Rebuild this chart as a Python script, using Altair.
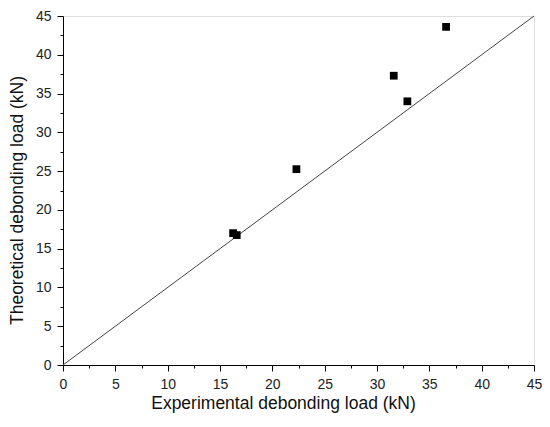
import altair as alt
import pandas as pd

exp_load = [16.25, 16.6, 22.3, 31.6, 32.9, 36.6]
theo_load = [17.0, 16.75, 25.25, 37.3, 34.0, 43.6]
line_x = [0, 45]
line_y = [0, 45]
major_ticks = [0, 5, 10, 15, 20, 25, 30, 35, 40, 45]
minor_ticks = [2.5, 7.5, 12.5, 17.5, 22.5, 27.5, 32.5, 37.5, 42.5]

pts = pd.DataFrame({"x": exp_load, "y": theo_load})
ln = pd.DataFrame({"x": line_x, "y": line_y})

FONT = "Liberation Sans"
xs = alt.Scale(domain=[0, 45], nice=False, zero=False)
ys = alt.Scale(domain=[0, 45], nice=False, zero=False)


def major_axis(title, orient, pad, **kw):
    return alt.Axis(values=major_ticks, title=title, orient=orient, grid=False,
                    tickSize=6, tickColor="black", domainColor="black",
                    labelFont=FONT, labelFontSize=14, labelColor="#222",
                    titleFont=FONT, titleFontSize=17.5, titleFontWeight="normal",
                    titleColor="#111", labelPadding=6, titlePadding=pad,
                    labelOverlap=False, labelFlush=False, format="d", **kw)


def minor_axis(orient):
    return alt.Axis(values=minor_ticks, orient=orient, labels=False, title=None,
                    grid=False, domain=False, tickSize=3, tickColor="black")


line = alt.Chart(ln).mark_line(color="#444", strokeWidth=1).encode(
    x=alt.X("x:Q", scale=xs,
            axis=major_axis("Experimental debonding load (kN)", "bottom", 3, titleX=220)),
    y=alt.Y("y:Q", scale=ys,
            axis=major_axis("Theoretical debonding load (kN)", "left", 9, titleY=184)),
)

minor = alt.Chart(ln).mark_line(opacity=0).encode(
    x=alt.X("x:Q", scale=xs, axis=minor_axis("bottom")),
    y=alt.Y("y:Q", scale=ys, axis=minor_axis("left")),
)

points = alt.Chart(pts).mark_square(color="black", size=60, opacity=1).encode(
    x=alt.X("x:Q", scale=xs, axis=None),
    y=alt.Y("y:Q", scale=ys, axis=None),
)

chart = alt.layer(line, minor, points).resolve_axis(
    x="independent", y="independent"
).properties(
    width=471, height=349,
    autosize=alt.AutoSizeParams(type="none"),
    padding={"left": 55, "top": 8, "right": 8, "bottom": 50},
).configure_view(stroke=None).configure(background="white")

chart.save("out.html", embed_options={"renderer": "svg", "actions": False})
